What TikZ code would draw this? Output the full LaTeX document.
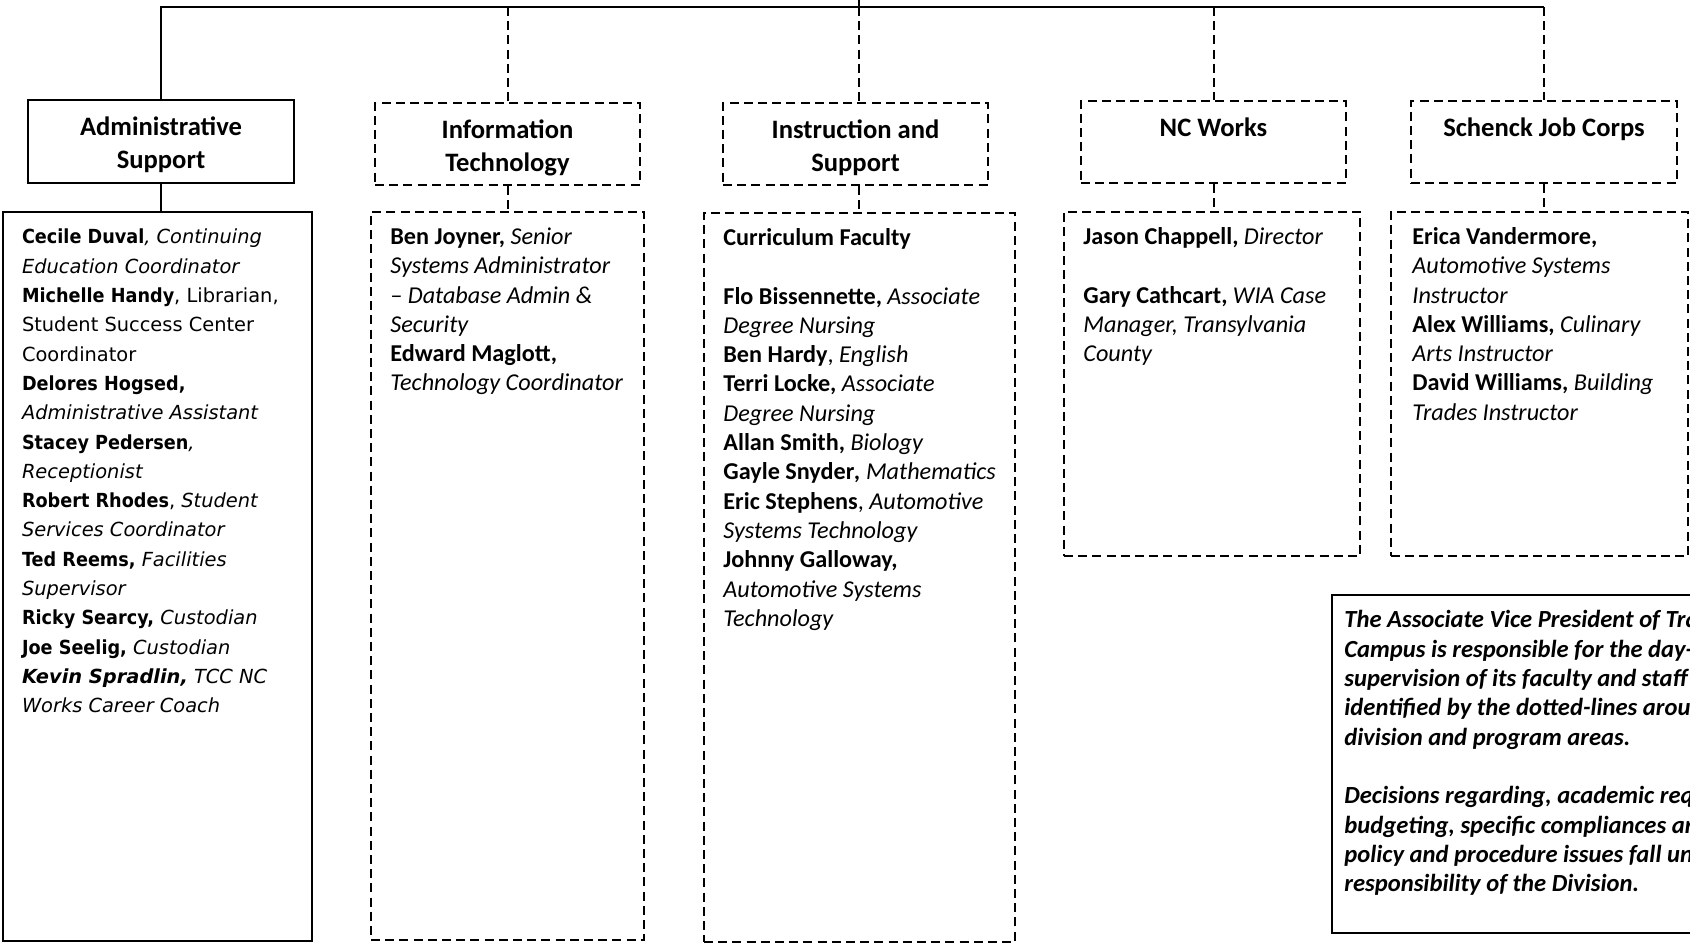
\documentclass[tikz,border=0pt]{standalone}
\usepackage{fontspec}
\setmainfont{Carlito}
\newfontfamily\verdana{DejaVu Sans}[BoldFeatures={FakeStretch=0.91}]
\usepackage{tikz}
\tikzset{
solidbox/.style={draw, line width=1pt, inner sep=0pt, anchor=north west},
dashbox/.style={solidbox, dash pattern=on 4.5pt off 2.6pt},
link/.style={line width=1pt},
dlink/.style={line width=1pt, dash pattern=on 4.5pt off 2.6pt},
headtxt/.style={anchor=north, inner sep=0pt, align=center, font=\fontsize{13.3}{16.4}\selectfont\bfseries},
listtxt/.style={anchor=north west, inner sep=0pt, align=left, font=\fontsize{12.1}{14.65}\selectfont},
}

\begin{document}
\begin{tikzpicture}[x=0.5pt,y=-0.5pt]
\useasboundingbox (0,0) rectangle (1690,948);
\clip (0,0) rectangle (1690,948);
% headers
\node [solidbox, minimum width=133pt, minimum height=41.5pt] (adm) at (27,99) {};
\node [dashbox, minimum width=132.5pt, minimum height=41pt] (it) at (374,102) {};
\node [dashbox, minimum width=132.5pt, minimum height=41pt] (ins) at (722,102) {};
\node [dashbox, minimum width=132.5pt, minimum height=41pt] (ncw) at (1080,100) {};
\node [dashbox, minimum width=133pt, minimum height=41pt] (sjc) at (1410,100) {};
% staff lists
\node [solidbox, minimum width=154.5pt, minimum height=364.5pt] (admL) at (2,211) {};
\node [dashbox, minimum width=136.5pt, minimum height=364pt] (itL) at (370,211) {};
\node [dashbox, minimum width=155.5pt, minimum height=364.5pt] (insL) at (703,212) {};
\node [dashbox, minimum width=148pt, minimum height=172pt] (ncwL) at (1063,211) {};
\node [dashbox, minimum width=148.5pt, minimum height=172pt] (sjcL) at (1390,211) {};
\node [solidbox, minimum width=215pt, minimum height=169pt] (note) at (1331,594) {};

\coordinate (avp) at (859,-10);
\coordinate (bus) at (0,7);
\draw [link] (adm.north) |- (sjc.north |- bus);
\draw [link] (avp) -- (avp |- bus);
\draw [dlink] (it.north |- bus) -- (it.north);
\draw [dlink] (avp |- bus) -- (avp |- ins.north);
\draw [dlink] (ncw.north |- bus) -- (ncw.north);
\draw [dlink] (sjc.north |- bus) -- (sjc.north);
\draw [link] (adm.south) -- (adm.south |- admL.north);
\draw [dlink] (it.south) -- (it.south |- itL.north);
\draw [dlink] (avp |- ins.south) -- (avp |- insL.north);
\draw [dlink] (ncw.south) -- (ncw.south |- ncwL.north);
\draw [dlink] (sjc.south) -- (sjc.south |- sjcL.north);

\node [headtxt] (admT) at ([shift={(0,13)}]adm.north) {\strut Administrative\\Support};
\node [headtxt] (itT) at ([shift={(0,13)}]it.north) {\strut Information\\Technology};
\node [headtxt] (insT) at ([shift={(0,13)}]ins.north) {\strut Instruction and\\Support};
\node [headtxt] (ncwT) at ([shift={(0,13)}]ncw.north) {\strut NC Works};
\node [headtxt] (sjcT) at ([shift={(0,13)}]sjc.north) {\strut Schenck Job Corps};

\node [listtxt, font=\verdana\fontsize{9.7}{14.65}\selectfont] (admS) at ([shift={(19.6,12)}]admL.north west) {%
\strut\textbf{Cecile Duval}\textit{, Continuing}\\
\textit{Education Coordinator}\\
\textbf{Michelle Handy}, Librarian,\\
Student Success Center\\
Coordinator\\
\textbf{Delores Hogsed,}\\
\textit{Administrative Assistant}\\
\textbf{Stacey Pedersen}\textit{,}\\
\textit{Receptionist}\\
\textbf{Robert Rhodes}, \textit{Student}\\
\textit{Services Coordinator}\\
\textbf{Ted Reems,} \textit{Facilities}\\
\textit{Supervisor}\\
\textbf{Ricky Searcy,} \textit{Custodian}\\
\textbf{Joe Seelig,} \textit{Custodian}\\
\textbf{\textit{Kevin Spradlin,}} \textit{TCC NC}\\
\textit{Works Career Coach}};
\node [listtxt] (itS) at ([shift={(20,12.5)}]itL.north west) {%
\strut\textbf{Ben Joyner,} \textit{Senior}\\
\textit{Systems Administrator}\\
\textit{-- Database Admin \&}\\
\textit{Security}\\
\textbf{Edward Maglott,}\\
\textit{Technology Coordinator}};
\node [listtxt] (insS) at ([shift={(20,12.5)}]insL.north west) {%
\strut\textbf{Curriculum Faculty}\\
\\
\textbf{Flo Bissennette,} \textit{Associate}\\
\textit{Degree Nursing}\\
\textbf{Ben Hardy}, \textit{English}\\
\textbf{Terri Locke,} \textit{Associate}\\
\textit{Degree Nursing}\\
\textbf{Allan Smith,} \textit{Biology}\\
\textbf{Gayle Snyder\textit{,}} \textit{Mathematics}\\
\textbf{Eric Stephens}, \textit{Automotive}\\
\textit{Systems Technology}\\
\textbf{Johnny Galloway,}\\
\textit{Automotive Systems}\\
\textit{Technology}};
\node [listtxt] (ncwS) at ([shift={(20,12.5)}]ncwL.north west) {%
\strut\textbf{Jason Chappell,} \textit{Director}\\
\\
\textbf{Gary Cathcart,} \textit{WIA Case}\\
\textit{Manager, Transylvania}\\
\textit{County}};
\node [listtxt] (sjcS) at ([shift={(22,12.5)}]sjcL.north west) {%
\strut\textbf{Erica Vandermore,}\\
\textit{Automotive Systems}\\
\textit{Instructor}\\
\textbf{Alex Williams,} \textit{Culinary}\\
\textit{Arts Instructor}\\
\textbf{David Williams,} \textit{Building}\\
\textit{Trades Instructor}};
\node [listtxt, font=\fontsize{12.3}{14.65}\selectfont\bfseries\itshape] (noteS) at ([shift={(13,13)}]note.north west) {%
\strut The Associate Vice President of Tra\\
Campus is responsible for the day-\\
supervision of its faculty and staff\\
identified by the dotted-lines arou\\
division and program areas.\\
\\
Decisions regarding, academic req\\
budgeting, specific compliances an\\
policy and procedure issues fall un\\
responsibility of the Division.};
\end{tikzpicture}
\end{document}
